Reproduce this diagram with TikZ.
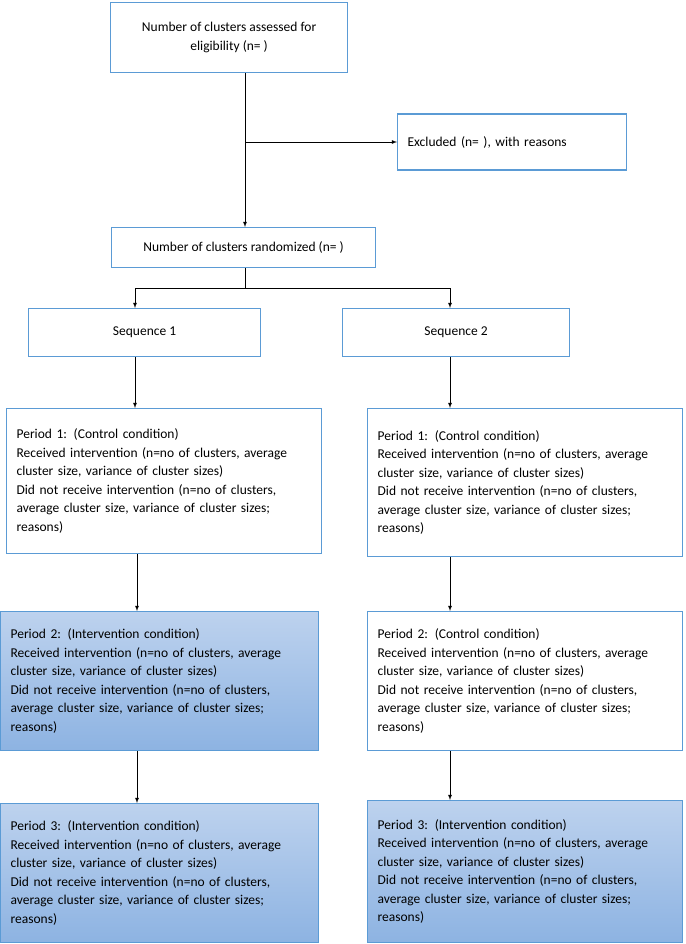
\documentclass[tikz,border=0pt]{standalone}
\usepackage{fontspec}
\setmainfont{Carlito}
\usetikzlibrary{positioning}
\definecolor{boxline}{HTML}{5B9BD5}
\definecolor{filltop}{HTML}{BDD2EE}
\definecolor{fillbot}{HTML}{8DB3E2}
\tikzset{
  box/.style={draw=boxline, line width=1.2pt, inner sep=0pt, anchor=north west},
  period/.style={box, align=left, text width=#1, inner xsep=10pt},
  shaded/.style={top color=filltop, bottom color=fillbot},
  arr/.style={-latex, line width=0.8pt},
  ln/.style={line width=0.8pt}
}
\begin{document}
\begin{tikzpicture}[x=1pt, y=-1pt, font=\fontsize{13.5}{18.5}\selectfont]
  \useasboundingbox (0,0) rectangle (685,944);

  % Boxes on top
  \node[box, minimum width=237pt, minimum height=70pt, align=center] (assess) at (110,2)
    {Number of clusters assessed for\\eligibility (n= )};
  \node[box, minimum width=229pt, minimum height=56pt, anchor=west, text width=209pt, inner xsep=10pt, align=left] (excl) at (397,142)
    {Excluded (n= ), with reasons};
  \node[box, minimum width=264pt, minimum height=40pt] (rand) at (111,227)
    {Number of clusters randomized (n= )};

  % Sequences
  \node[box, minimum width=232pt, minimum height=48pt] (seqA) at (28,308) {Sequence 1};
  \node[box, minimum width=227pt, minimum height=48pt] (seqB) at (342,308) {Sequence 2};

  % Periods
  \node[period=295pt, minimum height=145pt] (pA1) at (6,408)
    {Period 1: (Control condition)\\Received intervention (n=no of clusters, average\\cluster size, variance of cluster sizes)\\Did not receive intervention (n=no of clusters,\\average cluster size, variance of cluster sizes;\\reasons)};
  \node[period=295pt, minimum height=148pt] (pB1) at (367,408)
    {Period 1: (Control condition)\\Received intervention (n=no of clusters, average\\cluster size, variance of cluster sizes)\\Did not receive intervention (n=no of clusters,\\average cluster size, variance of cluster sizes;\\reasons)};
  \node[period=298pt, minimum height=139pt, shaded] (pA2) at (0,611)
    {Period 2: (Intervention condition)\\Received intervention (n=no of clusters, average\\cluster size, variance of cluster sizes)\\Did not receive intervention (n=no of clusters,\\average cluster size, variance of cluster sizes;\\reasons)};
  \node[period=295pt, minimum height=139pt] (pB2) at (367,611)
    {Period 2: (Control condition)\\Received intervention (n=no of clusters, average\\cluster size, variance of cluster sizes)\\Did not receive intervention (n=no of clusters,\\average cluster size, variance of cluster sizes;\\reasons)};
  \node[period=298pt, minimum height=139pt, shaded] (pA3) at (0,803)
    {Period 3: (Intervention condition)\\Received intervention (n=no of clusters, average\\cluster size, variance of cluster sizes)\\Did not receive intervention (n=no of clusters,\\average cluster size, variance of cluster sizes;\\reasons)};
  \node[period=295pt, minimum height=142pt, shaded] (pB3) at (367,800)
    {Period 3: (Intervention condition)\\Received intervention (n=no of clusters, average\\cluster size, variance of cluster sizes)\\Did not receive intervention (n=no of clusters,\\average cluster size, variance of cluster sizes;\\reasons)};

  % Connectors
  \coordinate (branch) at (245,142);
  \coordinate (split) at (245,288);
  \draw[arr] (assess.south -| branch) -- (rand.north -| branch);
  \draw[arr] (branch) -- (excl.west);
  \draw[ln] (rand.south -| split) -- (split);
  \draw[ln] (135,288) -- (450,288);
  \draw[arr] (135,288) -- (seqA.north -| 135,0);
  \draw[arr] (450,288) -- (seqB.north -| 450,0);
  \draw[arr] (seqA.south -| 135,0) -- (pA1.north -| 135,0);
  \draw[arr] (seqB.south -| 450,0) -- (pB1.north -| 450,0);
  \draw[arr] (pA1.south -| 137,0) -- (pA2.north -| 137,0);
  \draw[arr] (pB1.south -| 450,0) -- (pB2.north -| 450,0);
  \draw[arr] (pA2.south -| 137,0) -- (pA3.north -| 137,0);
  \draw[arr] (pB2.south -| 450,0) -- (pB3.north -| 450,0);
\end{tikzpicture}
\end{document}
